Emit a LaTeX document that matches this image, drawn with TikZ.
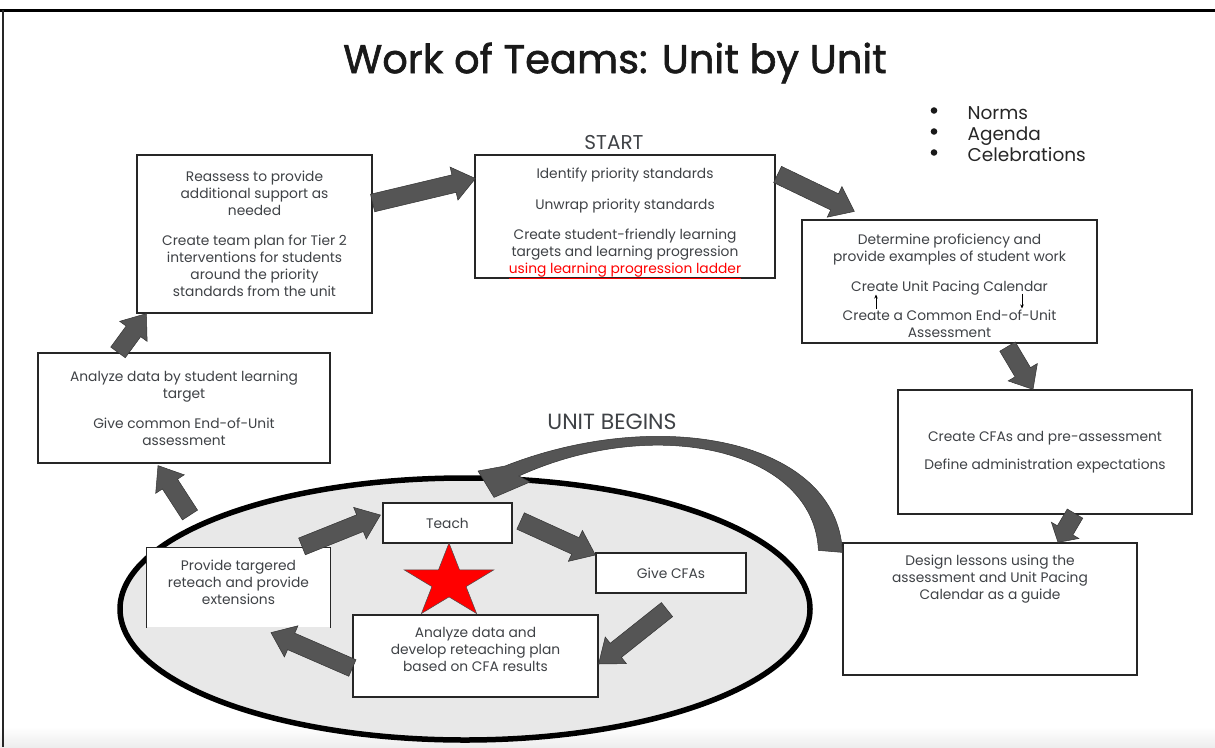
\documentclass[tikz,border=0pt]{standalone}
\usepackage{fontspec}
\setmainfont{Poppins}
\usepackage{xcolor}
\usepackage{tikz}
\usetikzlibrary{shapes,shapes.geometric,arrows.meta,positioning,calc}

\definecolor{textgray}{HTML}{3F4246}
\definecolor{arrowgray}{HTML}{555555}
\definecolor{ovalgray}{HTML}{E8E8E8}

% text set from the top of a box: height, width, text
\newcommand{\toptext}[3]{\parbox[c][#1][t]{#2}{\centering #3}}

% block arrow: start, end, half shaft, half head, head length
\newcommand{\bigarrow}[5]{%
  \coordinate (ba-s) at (#1);
  \coordinate (ba-e) at (#2);
  \coordinate (ba-h) at ($(ba-e)!#5!(ba-s)$);
  \filldraw[blockarrow] ($(ba-s)!#3!90:(ba-e)$) -- ($(ba-h)!#3!90:(ba-e)$) -- ($(ba-h)!#4!90:(ba-e)$)
    -- (ba-e) -- ($(ba-h)!#4!-90:(ba-e)$) -- ($(ba-h)!#3!-90:(ba-e)$) -- ($(ba-s)!#3!-90:(ba-e)$) -- cycle;
}

\begin{document}
\begin{tikzpicture}[
    x=1pt, y=-1pt,
    box/.style={rectangle, draw=black!85, line width=1.2pt, fill=white, align=center, inner sep=4pt,
      text=textgray, font=\fontsize{13.8}{17}\selectfont},
    label/.style={text=textgray, font=\fontsize{20}{22}\selectfont},
    blockarrow/.style={fill=arrowgray, draw=black!80, line width=0.5pt, line join=miter},
    smallarrow/.style={-{Stealth[length=4pt,width=3.5pt]}, line width=0.7pt, black}
]
    \useasboundingbox (0,0) rectangle (1215,747);
    \shade[top color=white, bottom color=black!7] (0,727) rectangle (1215,747);
    \draw[line width=3pt] (0,10) -- (1215,10);
    \draw[line width=2pt, black!85] (3,10) -- (3,747);

    \node[font=\fontsize{40}{46}\selectfont\addfontfeature{FakeBold=1.5}, text=black!90] (title) at (615,63) {Work of Teams: Unit by Unit};
    \node[anchor=west, align=left, font=\fontsize{18.5}{21}\selectfont, text=black!85] (agenda) at (964,134.5)
      {Norms\\ Agenda\\ Celebrations};
    \foreach \k in {-1,0,1}
      \fill[black!90] ($(agenda.west)+(-30,21*\k-3)$) circle (3.3pt);

    % the unit cycle
    \node[ellipse, draw, line width=5.5pt, fill=ovalgray, minimum width=690pt, minimum height=262pt] (unitcycle) at (465,609) {};
    \node[label, font=\fontsize{22}{24}\selectfont] (unitbegins) at (612,422) {UNIT BEGINS};

    \node[label] (startlbl) at (614,143) {START};
    \node[box, minimum width=300pt, minimum height=123pt] (priority) at (625,216.5)
      {\toptext{97pt}{290pt}{Identify priority standards\\[14pt] Unwrap priority standards\\[13pt] Create student-friendly learning\\ targets and learning progression\\
       \textcolor{red}{\underline{using learning progression ladder}}}};
    \node[box, minimum width=235pt, minimum height=158pt] (reassess) at (254.5,234)
      {Reassess to provide\\ additional support as\\ needed\\[13pt] Create team plan for Tier 2\\ interventions for students\\ around the priority\\ standards from the unit};
    \node[box, minimum width=295pt, minimum height=123pt] (determine) at (949.5,281.5)
      {\toptext{95pt}{285pt}{Determine proficiency and\\ provide examples of student work\\[13pt] Create Unit Pacing Calendar\\[12pt] Create a Common End-of-Unit\\ Assessment}};
    \node[box, minimum width=294pt, minimum height=124pt] (cfas) at (1045,452)
      {Create CFAs and pre-assessment\\[11pt] Define administration expectations};
    \node[box, minimum width=294pt, minimum height=132pt] (design) at (990,609)
      {\toptext{108pt}{280pt}{Design lessons using the\\ assessment and Unit Pacing\\ Calendar as a guide}};
    \node[box, minimum width=292pt, minimum height=110pt] (analyzetarget) at (184,408)
      {\toptext{74pt}{280pt}{Analyze data by student learning\\ target\\[13pt] Give common End-of-Unit\\ assessment}};

    \node[box, minimum width=129pt, minimum height=40pt] (teach) at (447.5,523) {Teach};
    \node[box, minimum width=150pt, minimum height=40pt] (givecfas) at (671,573) {Give CFAs};
    \node[box, draw=none, minimum width=183pt, minimum height=79pt] (provide) at (238.5,587.5)
      {\toptext{55pt}{175pt}{Provide targered\\ reteach and provide\\ extensions}};
    \draw[black!85, line width=1.2pt] (provide.south west) -- (provide.north west) -- (provide.north east) -- (provide.south east);
    \node[box, minimum width=245pt, minimum height=82pt] (analyzecfa) at (475.5,656)
      {\toptext{58pt}{235pt}{Analyze data and\\ develop reteaching plan\\ based on CFA results}};

    % star
    \filldraw[fill=red, draw=black!70, line width=0.5pt] (449,582) +(270:47 and 39)
      \foreach \k in {1,...,9} {-- +({270+36*\k}:{47*(0.382+0.618*mod(\k+1,2))} and {39*(0.382+0.618*mod(\k+1,2))})} -- cycle;

    % small arrows between calendar and assessment
    \coordinate (paceup-s) at ($(determine.center)+(-73.5,27)$);
    \coordinate (paceup-e) at ($(determine.center)+(-73.5,13)$);
    \coordinate (pacedown-s) at ($(determine.center)+(72.5,12)$);
    \coordinate (pacedown-e) at ($(determine.center)+(72.5,27)$);
    \draw[smallarrow] (paceup-s) -- (paceup-e);
    \draw[smallarrow] (pacedown-s) -- (pacedown-e);

    % big arrows round the cycle
    \bigarrow{$(reassess.east)+(0,-31)$}{$(priority.west)+(1,-38)$}{9pt}{17pt}{22pt}
    \bigarrow{$(priority.east)+(2,-42)$}{$(determine.north west)+(53,-8)$}{9pt}{17pt}{22pt}
    \bigarrow{$(determine.south)+(58,3)$}{$(cfas.north)+(-12,0)$}{9pt}{17pt}{20pt}
    \bigarrow{$(cfas.south)+(30,-1)$}{$(design.north)+(68,0)$}{9pt}{16pt}{14pt}
    \bigarrow{$(teach.east)+(8,-2)$}{$(givecfas.west)+(0,-18)$}{9pt}{17pt}{22pt}
    \bigarrow{$(givecfas.south)+(-4,16)$}{$(analyzecfa.east)+(0,8)$}{9pt}{17pt}{22pt}
    \bigarrow{$(analyzecfa.west)+(0,12)$}{$(provide.south)+(32.5,5)$}{9pt}{17pt}{22pt}
    \bigarrow{$(provide.north)+(63.5,-1)$}{$(teach.west)+(-2,-8)$}{9pt}{17pt}{22pt}
    \bigarrow{$(unitcycle.center)+(-275,-94)$}{$(analyzetarget.south)+(-26,2)$}{9pt}{17pt}{22pt}
    \bigarrow{$(analyzetarget.north)+(-66,0)$}{$(reassess.south west)+(10,0)$}{9pt}{17pt}{22pt}

    % curved arrow from design back to teach
    \coordinate (loop-in) at ($(design.north west)+(-24,8)$);
    \coordinate (loop-out) at ($(design.north west)+(0,10)$);
    \coordinate (loop-tip) at ($(teach.north)+(46.5,-5)$);
    \filldraw[blockarrow] (loop-in) -- (loop-out) .. controls (838,440) and (660,405) .. (505,466)
      -- (478,471) -- (loop-tip) -- (530,482) -- (519,476) .. controls (655,414) and (814,449) .. (loop-in) -- cycle;
\end{tikzpicture}
\end{document}
